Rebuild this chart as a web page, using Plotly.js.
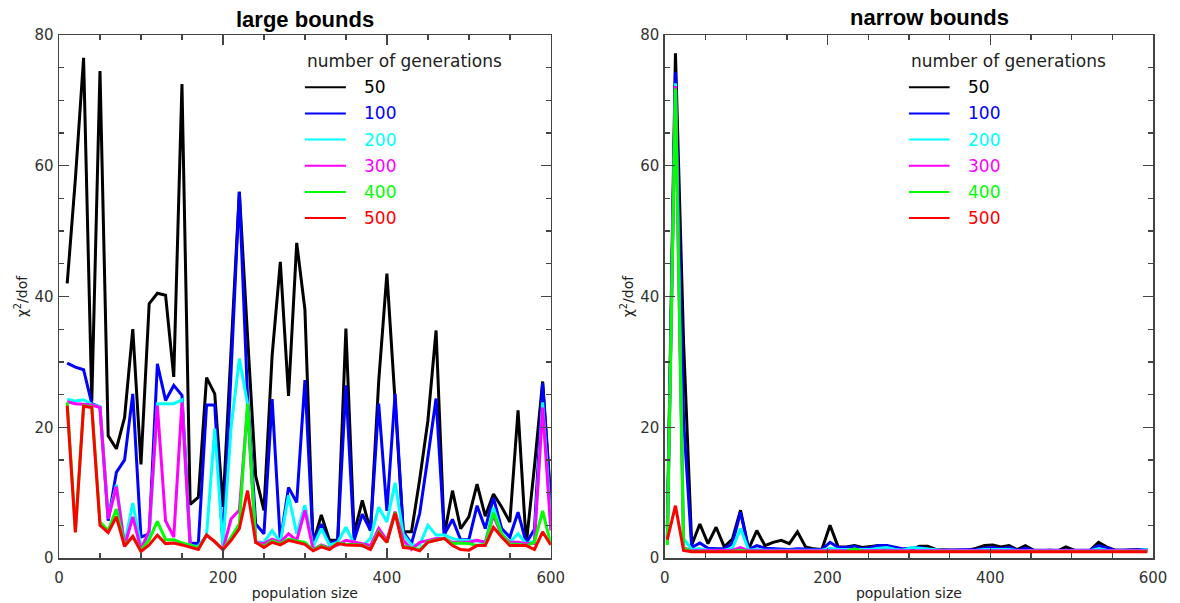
<!DOCTYPE html>
<html>
<head>
<meta charset="utf-8">
<script src="https://cdn.plot.ly/plotly-3.0.1.min.js"></script>
<style>html,body{margin:0;padding:0;background:#fff;}#chart{width:1180px;height:603px;}</style>
</head>
<body>
<div id="chart"></div>
<script>
// ---------- data ----------
const popLarge = [10,20,30,40,50,60,70,80,90,100,110,120,130,140,150,160,170,180,190,200,
  210,220,230,240,250,260,270,280,290,300,310,320,330,340,350,360,370,380,390,400,
  410,420,430,440,450,460,470,480,490,500,510,520,530,540,550,560,570,580,590,600];
const popNarrow = [3,13,23,33,43,53,63,73,83,93,103,113,123,133,143,153,163,173,183,193,
  203,213,223,233,243,253,263,273,283,293,303,313,323,333,343,353,363,373,383,393,
  403,413,423,433,443,453,463,473,483,493,503,513,523,533,543,553,563,573,583,593];

const genLabels = ['50','100','200','300','400','500'];
const genColors = ['#000000','#0000ff','#00ffff','#ff00ff','#00ff00','#ff0000'];

// large bounds: chi2/dof per number of generations
const large50  = [42,58,76.5,24,74.5,18.7,16.7,21.5,35,14.3,38.9,40.5,40.2,27.7,72.5,8.2,9.3,27.6,25.1,7.8,
  32,56,34,12.5,7.3,31,45.3,24.8,48.2,38,2.2,6.6,2.7,2.7,35.1,3.7,8.8,4.2,27,43.5,
  24,4.0,4.0,12,21,34.8,3.5,10.3,4.5,6.3,11.3,6.4,9.8,7.8,5.5,22.6,2.1,14,27,9];
const large100 = [29.8,29.2,28.8,23.6,23.1,5.7,13.1,15.0,25.1,3.2,3.7,29.7,24.1,26.4,24.9,2.3,2.2,23.4,23.4,2.0,
  28.7,56,24.6,5.2,3.7,24.3,2.5,10.8,8.5,27.2,2.2,5.2,2.2,2.7,26.4,2.7,6.7,4.2,23.6,7.2,
  25.1,4.0,2.2,6.8,15.4,24.4,3.6,5.9,2.8,2.8,8.0,4.5,9.2,4.5,3.2,7.0,2.3,4.4,26.8,8];
const large200 = [24.3,24.0,24.2,23.5,23.1,6.2,11.2,2.1,8.4,1.8,3.2,23.6,23.6,23.6,24.2,1.8,1.8,3.5,19.8,1.8,
  20,30.5,23.6,2.4,2.4,4.2,2.4,9.6,3.7,8.1,1.7,4.5,2.0,2.4,4.7,2.2,1.8,3.0,7.8,5.5,
  11.5,3.6,2.0,2.0,5.0,3.5,3.5,3.0,2.7,2.7,2.6,2.4,7.7,3.7,2.4,3.7,2.2,2.6,23.8,5.5];
const large300 = [23.9,23.6,23.5,23.4,23.0,6.0,10.9,1.8,6.3,1.3,4.2,23.3,5.7,3.2,23.8,1.8,1.5,3.5,2.5,1.3,
  6.0,7.3,23,2.4,2.2,2.9,2.4,3.7,2.7,7.3,1.3,2.0,1.5,2.0,2.7,2.4,2.2,1.9,4.5,2.7,
  7.1,2.7,1.3,2.4,2.7,3.0,3.0,2.4,2.4,2.4,2.7,2.4,6.5,3.5,2.4,2.4,2.2,2.2,23,4.2];
const large400 = [23.8,4.2,23.3,23.1,5.5,4.2,7.5,2.0,3.3,1.2,2.8,5.6,2.8,2.8,2.3,2.0,1.5,3.5,2.5,1.3,
  3.2,5.2,23.6,2.4,1.8,2.6,2.2,2.9,2.6,2.4,1.2,1.9,1.4,2.3,2.1,2.1,2.0,1.4,4.0,2.4,
  7.0,1.8,1.6,1.3,2.5,2.8,3.0,2.2,2.3,2.2,1.9,2.1,6.9,3.7,2.1,2.1,1.9,2.4,7.2,2.1];
const large500 = [23.3,3.9,23.2,23.0,5.0,3.9,6.3,1.8,3.3,1.0,2.0,3.5,2.2,2.3,2.0,1.6,1.3,3.5,2.5,1.3,
  2.7,4.5,10.3,2.4,1.6,2.4,2.0,2.7,2.4,2.1,1.1,1.7,1.3,2.2,2.0,2.0,1.9,1.3,3.8,2.4,
  6.9,1.6,1.5,1.1,2.4,2.7,3.0,1.9,1.3,1.2,1.9,1.9,4.7,3.2,1.9,1.9,1.9,1.3,4.0,2.0];

// narrow bounds
const narrow50  = [4.5,77.2,33,2.0,5.2,2.2,4.7,1.7,2.9,7.3,1.4,4.2,1.9,2.4,2.7,2.2,4.0,1.7,1.4,1.3,
  5.0,1.7,1.7,1.9,1.6,1.7,1.9,1.8,1.4,1.3,1.3,1.8,1.8,1.3,1.2,1.2,1.2,1.2,1.5,1.9,
  2.0,1.7,1.9,1.3,1.9,1.2,1.1,1.2,1.1,1.7,1.2,1.1,1.2,2.4,1.7,1.2,1.2,1.2,1.3,1.3];
const narrow100 = [3.0,74.3,21,1.6,2.3,1.5,1.4,1.4,2.2,7.0,1.3,1.9,1.5,1.4,1.3,1.3,1.4,1.3,1.3,1.3,
  2.4,1.6,1.6,1.8,1.4,1.6,1.9,1.9,1.6,1.4,1.5,1.6,1.4,1.2,1.2,1.2,1.2,1.2,1.3,1.5,
  1.6,1.4,1.6,1.2,1.5,1.2,1.2,1.2,1.2,1.3,1.2,1.2,1.2,1.9,1.5,1.2,1.2,1.2,1.2,1.3];
const narrow200 = [2.5,72.6,3.0,1.3,1.4,1.2,1.2,1.2,1.5,4.5,1.2,1.3,1.2,1.2,1.2,1.2,1.2,1.2,1.2,1.2,
  1.5,1.3,1.3,1.3,1.2,1.3,1.5,1.6,1.3,1.2,1.6,1.5,1.3,1.2,1.15,1.15,1.15,1.15,1.2,1.3,
  1.3,1.2,1.3,1.15,1.2,1.15,1.15,1.15,1.15,1.2,1.15,1.15,1.15,1.4,1.2,1.15,1.15,1.15,1.2,1.3];
const narrow300 = [2.2,72.2,1.6,1.1,1.1,1.1,1.1,1.1,1.2,1.6,1.1,1.1,1.1,1.1,1.1,1.1,1.1,1.1,1.1,1.1,
  1.2,1.1,1.1,1.3,1.1,1.1,1.2,1.2,1.1,1.1,1.1,1.1,1.1,1.1,1.1,1.1,1.1,1.1,1.1,1.1,
  1.1,1.1,1.1,1.1,1.1,1.1,1.1,1.1,1.1,1.1,1.1,1.1,1.1,1.2,1.1,1.1,1.1,1.1,1.1,1.1];
const narrow400 = [2.0,71.8,1.5,1.0,1.0,1.0,1.0,1.0,1.05,1.2,1.0,1.0,1.0,1.0,1.0,1.0,1.0,1.0,1.0,1.0,
  1.1,1.0,1.0,1.4,1.0,1.0,1.05,1.05,1.0,1.0,1.0,1.0,1.0,1.0,1.0,1.0,1.0,1.0,1.0,1.0,
  1.0,1.0,1.0,1.0,1.0,1.0,1.0,1.0,1.0,1.0,1.0,1.0,1.0,1.05,1.0,1.0,1.0,1.0,1.0,1.0];
const narrow500 = [2.8,8.0,1.15,0.95,0.95,0.95,0.95,0.95,0.95,1.0,0.95,0.95,0.95,0.95,0.95,0.95,0.95,0.95,0.95,0.95,
  0.95,0.95,0.95,1.0,0.95,0.95,0.95,0.95,0.95,0.95,0.95,0.95,0.95,0.95,0.95,0.95,0.95,0.95,0.95,0.95,
  0.95,0.95,0.95,0.95,0.95,0.95,0.95,0.95,0.95,0.95,0.95,0.95,0.95,0.95,0.95,0.95,0.95,0.95,0.95,0.95];

const largeSeries  = [large50, large100, large200, large300, large400, large500];
const narrowSeries = [narrow50, narrow100, narrow200, narrow300, narrow400, narrow500];

// legend placement in data units
const legendHeaderY = 76;
const legendRowY = [72, 68, 64, 60, 56, 52];
const legendLineX = [300, 350];
const legendTextX = 370;

// ---------- build ----------
const FONT = 'DejaVu Sans, Liberation Sans, sans-serif';
const traces = [];
genLabels.forEach((g, i) => {
  traces.push({x: popLarge, y: largeSeries[i], xaxis: 'x', yaxis: 'y', type: 'scatter', mode: 'lines',
    name: g, line: {color: genColors[i], width: 3}, hoverinfo: 'skip'});
});
genLabels.forEach((g, i) => {
  traces.push({x: popNarrow, y: narrowSeries[i], xaxis: 'x2', yaxis: 'y2', type: 'scatter', mode: 'lines',
    name: g, line: {color: genColors[i], width: 3}, hoverinfo: 'skip'});
});

const shapes = [];
const annotations = [];
[['x','y'],['x2','y2']].forEach(([xr, yr]) => {
  annotations.push({xref: xr, yref: yr, x: legendLineX[0], y: legendHeaderY, text: 'number of generations',
    showarrow: false, xanchor: 'left', yanchor: 'middle', font: {family: FONT, size: 17, color: '#222'}});
  genLabels.forEach((g, i) => {
    shapes.push({type: 'line', xref: xr, yref: yr, x0: legendLineX[0], x1: legendLineX[1],
      y0: legendRowY[i], y1: legendRowY[i], line: {color: genColors[i], width: 2}});
    annotations.push({xref: xr, yref: yr, x: legendTextX, y: legendRowY[i], text: g, showarrow: false,
      xanchor: 'left', yanchor: 'middle', font: {family: FONT, size: 17, color: genColors[i]}});
  });
});
annotations.push({xref: 'x', yref: 'paper', x: 300, y: 1.03, text: '<b>large bounds</b>', showarrow: false,
  xanchor: 'center', yanchor: 'middle', font: {family: 'Liberation Sans, Arial, sans-serif', size: 22, color: '#000'}});
annotations.push({xref: 'x2', yref: 'paper', x: 325, y: 1.033, text: '<b>narrow bounds</b>', showarrow: false,
  xanchor: 'center', yanchor: 'middle', font: {family: 'Liberation Sans, Arial, sans-serif', size: 22, color: '#000'}});

function xAxis(domain, anchor) {
  return {domain: domain, anchor: anchor, range: [0, 600], tick0: 0, dtick: 200,
    ticks: 'inside', ticklen: 10, tickwidth: 1.3, tickcolor: '#444',
    minor: {dtick: 50, ticks: 'inside', ticklen: 5, tickwidth: 1.3, tickcolor: '#444', showgrid: false},
    showline: true, linecolor: '#444', linewidth: 1.5, mirror: 'allticks',
    showgrid: false, zeroline: false, automargin: false, ticklabelstandoff: 5,
    tickfont: {family: FONT, size: 15, color: '#333'},
    title: {text: 'population size', font: {family: FONT, size: 14, color: '#222'}, standoff: 2}};
}
function yAxis(anchor) {
  return {domain: [0, 1], anchor: anchor, range: [0, 80], tick0: 0, dtick: 20,
    ticks: 'inside', ticklen: 10, tickwidth: 1.3, tickcolor: '#444',
    minor: {dtick: 5, ticks: 'inside', ticklen: 5, tickwidth: 1.3, tickcolor: '#444', showgrid: false},
    showline: true, linecolor: '#444', linewidth: 1.5, mirror: 'allticks',
    showgrid: false, zeroline: false, automargin: false, ticklabelstandoff: 1,
    tickfont: {family: FONT, size: 15, color: '#333'},
    title: {text: 'χ<sup>2</sup>/dof', font: {family: FONT, size: 14, color: '#222'}, standoff: 3}};
}

const plotW = 1180 - 59.3 - 27;
const layout = {
  width: 1180, height: 603,
  margin: {l: 59.3, r: 27, t: 34.9, b: 45.4, pad: 0},
  paper_bgcolor: '#fff', plot_bgcolor: '#fff',
  showlegend: false,
  xaxis: xAxis([0, (551 - 59.3) / plotW], 'y'),
  yaxis: yAxis('x'),
  xaxis2: xAxis([(665 - 59.3) / plotW, 1], 'y2'),
  yaxis2: yAxis('x2'),
  shapes: shapes,
  annotations: annotations
};

Plotly.newPlot('chart', traces, layout, {staticPlot: true, displayModeBar: false});
</script>
</body>
</html>
